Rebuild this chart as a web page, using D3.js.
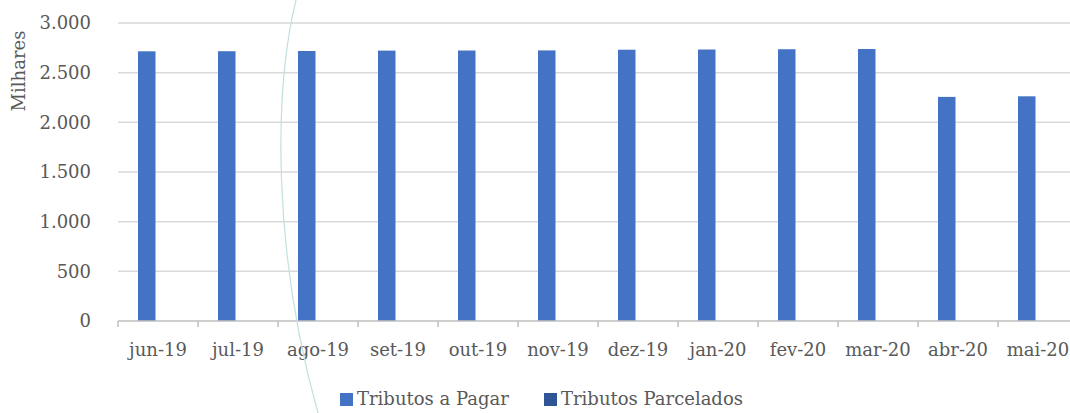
<!DOCTYPE html>
<html>
<head>
<meta charset="utf-8">
<script src="https://cdn.jsdelivr.net/npm/d3@7"></script>
<style>
  body { margin: 0; background: #fff; }
</style>
</head>
<body>
<div id="chart"></div>
<script>
// data (values in thousands)
var months = ["jun-19","jul-19","ago-19","set-19","out-19","nov-19","dez-19","jan-20","fev-20","mar-20","abr-20","mai-20"];
var series = ["Tributos a Pagar", "Tributos Parcelados"];
var tributosPagar = [2715, 2716, 2718, 2722, 2723, 2724, 2731, 2733, 2736, 2738, 2256, 2262];
var tributosParcelados = [0, 0, 0, 0, 0, 0, 0, 0, 0, 0, 0, 0];
var yTicks = [0, 500, 1000, 1500, 2000, 2500, 3000];
var colors = ["#4472c4", "#2f5597"];

var W = 1070, H = 413;
var margin = {top: 23, right: -8, bottom: 92, left: 118};
var width = W - margin.left - margin.right,
    height = H - margin.top - margin.bottom;

var svg = d3.select("#chart").append("svg")
  .attr("width", W).attr("height", H)
  .attr("font-family", "'DejaVu Serif', serif")
  .attr("fill", "#595959");

var g = svg.append("g")
  .attr("transform", "translate(" + margin.left + "," + margin.top + ")");

var x0 = d3.scaleBand().domain(months).range([0, width]).padding(0);
var x1 = d3.scaleBand().domain(series).range([20, 55]).padding(0);
var y = d3.scaleLinear().domain([0, 3000]).range([height, 0]);

var fmt = function(d) { return d3.format(",")(d).replace(/,/g, "."); };

// gridlines
g.selectAll("line.grid")
  .data(yTicks.filter(function(d) { return d > 0; }))
  .enter().append("line")
    .attr("class", "grid")
    .attr("x1", 0).attr("x2", width)
    .attr("y1", function(d) { return y(d); })
    .attr("y2", function(d) { return y(d); })
    .attr("stroke", "#d9d9d9").attr("stroke-width", 1.5);

// y labels
g.selectAll("text.ylab")
  .data(yTicks)
  .enter().append("text")
    .attr("class", "ylab")
    .attr("x", -27)
    .attr("y", function(d) { return y(d); })
    .attr("dy", "0.35em")
    .attr("text-anchor", "end")
    .attr("font-size", 18)
    .text(fmt);

// axis title
svg.append("text")
  .attr("transform", "translate(25,71) rotate(-90)")
  .attr("text-anchor", "middle")
  .attr("font-size", 18)
  .text("Milhares");

// bars
var rows = months.map(function(m, i) {
  return {month: m, vals: [tributosPagar[i], tributosParcelados[i]]};
});
var grp = g.selectAll("g.month")
  .data(rows)
  .enter().append("g")
    .attr("transform", function(d) { return "translate(" + x0(d.month) + ",0)"; });
grp.selectAll("rect")
  .data(function(d) { return d.vals.map(function(v, j) { return {s: series[j], v: v, c: colors[j]}; }); })
  .enter().append("rect")
    .attr("x", function(d) { return x1(d.s); })
    .attr("width", x1.bandwidth())
    .attr("y", function(d) { return y(d.v); })
    .attr("height", function(d) { return height - y(d.v); })
    .attr("fill", function(d) { return d.c; });

// x axis
var xAxis = g.append("g")
  .attr("transform", "translate(0," + height + ")");
xAxis.append("line")
  .attr("x1", 0).attr("x2", width)
  .attr("stroke", "#bfbfbf").attr("stroke-width", 1.5);
xAxis.selectAll("line.tick")
  .data(months.concat(["end"]))
  .enter().append("line")
    .attr("x1", function(d, i) { return i * x0.step(); })
    .attr("x2", function(d, i) { return i * x0.step(); })
    .attr("y1", 0).attr("y2", 6)
    .attr("stroke", "#bfbfbf").attr("stroke-width", 1.5);
xAxis.selectAll("text")
  .data(months)
  .enter().append("text")
    .attr("x", function(d) { return x0(d) + x0.bandwidth() / 2; })
    .attr("y", 35)
    .attr("text-anchor", "middle")
    .attr("font-size", 18)
    .text(function(d) { return d; });

// legend
var legendX = [340, 544];
var leg = svg.selectAll("g.legend")
  .data(series)
  .enter().append("g")
    .attr("transform", function(d, i) { return "translate(" + legendX[i] + ",393)"; });
leg.append("rect")
  .attr("width", 13).attr("height", 13)
  .attr("fill", function(d, i) { return colors[i]; });
leg.append("text")
  .attr("x", 17).attr("y", 12)
  .attr("font-size", 18)
  .text(function(d) { return d; });

// faint decorative arc crossing the picture
svg.append("path")
  .attr("d", "M296,0 C274,90 272,250 318,413")
  .attr("fill", "none")
  .attr("stroke", "#c3dfe0")
  .attr("stroke-width", 1.2);
</script>
</body>
</html>
